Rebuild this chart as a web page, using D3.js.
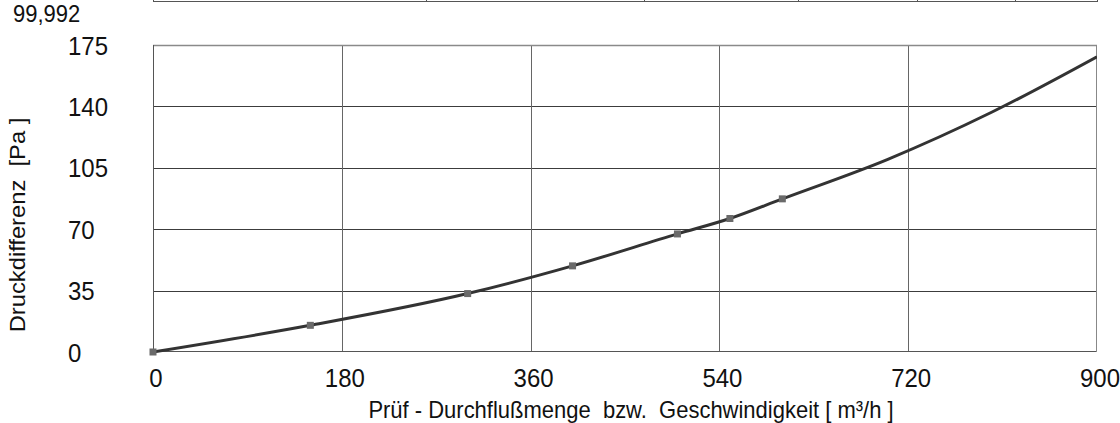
<!DOCTYPE html>
<html lang="de">
<head>
<meta charset="utf-8">
<title>Druckdifferenz</title>
<script src="https://cdn.jsdelivr.net/npm/d3@7"></script>
<style>
  body { margin: 0; background: #fff; }
  text { font-family: "Liberation Sans", Arial, sans-serif; fill: #111; white-space: pre; }
</style>
</head>
<body>
<script>
var w = 1120, h = 423;

// measured points (m³/h, Pa)
var flowPoints = [0, 150, 300, 400, 500, 550, 600];
var pressurePoints = [0, 15.2, 33.3, 49.1, 67.3, 76.1, 87.3];

// fitted curve
var flowCurve = [0, 150, 300, 400, 500, 550, 600, 700, 800, 900];
var pressureCurve = [0, 15.2, 33.3, 49.1, 67.3, 76.1, 87.3, 109.7, 136.8, 168.3];

var xTicks = [0, 180, 360, 540, 720, 900];
var yTicks = [0, 35, 70, 105, 140, 175];

var xTitle = "Prüf - Durchflußmenge  bzw.  Geschwindigkeit [ m³/h ]";
var yTitle = "Druckdifferenz  [Pa ]";

// bottom edge of the chart above, cut off in the picture
var upperLabel = "99,992";
var upperTicks = [0.2895, 0.5196, 0.683, 0.809, 0.913];

var stretch = 1.08; // the source picture is a little taller than wide

var svg = d3.select("body").append("svg")
    .attr("width", w)
    .attr("height", h);

var x = d3.scaleLinear().domain([0, 900]).range([153, 1097]);
var y = d3.scaleLinear().domain([0, 175]).range([352, 45]);
var xu = d3.scaleLinear().domain([0, 1]).range([153, 1097]);

function label(tx, ty, str, size, anchor) {
  return svg.append("text")
    .attr("transform", "translate(" + tx + "," + ty + ") scale(1," + stretch + ")")
    .attr("xml:space", "preserve")
    .attr("font-size", size)
    .attr("text-anchor", anchor || "start")
    .text(str);
}

// upper strip
svg.append("line")
  .attr("x1", xu(0)).attr("x2", xu(1))
  .attr("y1", 1.5).attr("y2", 1.5)
  .attr("stroke", "#555").attr("stroke-width", 1.2);
svg.selectAll(".uptick")
  .data([0].concat(upperTicks, [1]))
  .enter().append("line")
  .attr("x1", function(d) { return Math.round(xu(d)) + 0.5; })
  .attr("x2", function(d) { return Math.round(xu(d)) + 0.5; })
  .attr("y1", 0).attr("y2", 2)
  .attr("stroke", "#555");
label(13, 22, upperLabel, 22);

// grid
svg.selectAll(".hgrid")
  .data(yTicks.slice(1, -1))
  .enter().append("line")
  .attr("x1", x(0)).attr("x2", x(900))
  .attr("y1", function(d) { return Math.round(y(d)) + 0.5; })
  .attr("y2", function(d) { return Math.round(y(d)) + 0.5; })
  .attr("stroke", "#3c3c3c");

svg.selectAll(".vgrid")
  .data(xTicks.slice(1, -1))
  .enter().append("line")
  .attr("x1", function(d) { return Math.round(x(d)) + 0.5; })
  .attr("x2", function(d) { return Math.round(x(d)) + 0.5; })
  .attr("y1", y(175)).attr("y2", y(0))
  .attr("stroke", "#666");

// frame
svg.append("line").attr("x1", x(0)).attr("x2", x(900)).attr("y1", y(175) + 0.5).attr("y2", y(175) + 0.5)
  .attr("stroke", "#8a8a8a").attr("stroke-width", 1.5);
svg.append("line").attr("x1", x(0)).attr("x2", x(900)).attr("y1", y(0) - 0.5).attr("y2", y(0) - 0.5)
  .attr("stroke", "#555");
svg.append("line").attr("x1", x(0) + 0.5).attr("x2", x(0) + 0.5).attr("y1", y(175)).attr("y2", y(0))
  .attr("stroke", "#555");
svg.append("line").attr("x1", x(900) - 0.5).attr("x2", x(900) - 0.5).attr("y1", y(175)).attr("y2", y(0))
  .attr("stroke", "#888");

// curve
svg.append("clipPath").attr("id", "plot")
  .append("rect")
  .attr("x", x(0) - 5).attr("y", y(175))
  .attr("width", x(900) - x(0) + 5).attr("height", y(0) - y(175) + 5);

var line = d3.line()
  .x(function(d, i) { return x(flowCurve[i]); })
  .y(function(d, i) { return y(pressureCurve[i]); })
  .curve(d3.curveMonotoneX);

svg.append("path")
  .attr("d", line(flowCurve))
  .attr("clip-path", "url(#plot)")
  .attr("fill", "none")
  .attr("stroke", "#333")
  .attr("stroke-width", 3);

svg.selectAll(".pt")
  .data(flowPoints)
  .enter().append("rect")
  .attr("x", function(d) { return x(d) - 3.5; })
  .attr("y", function(d, i) { return y(pressurePoints[i]) - 3.5; })
  .attr("width", 7).attr("height", 7)
  .attr("fill", "#6a6a6a");

// tick labels
yTicks.forEach(function(t) {
  label(68, y(t) + 9.5, t, 24);
});
xTicks.forEach(function(t) {
  label(x(t) + 3, 387, t, 24, "middle");
});

// axis titles
label(631, 418, xTitle, 22, "middle");
svg.append("text")
  .attr("transform", "translate(25,225) rotate(-90) scale(" + stretch + ",1)")
  .attr("xml:space", "preserve")
  .attr("font-size", 22)
  .attr("text-anchor", "middle")
  .text(yTitle);
</script>
</body>
</html>
